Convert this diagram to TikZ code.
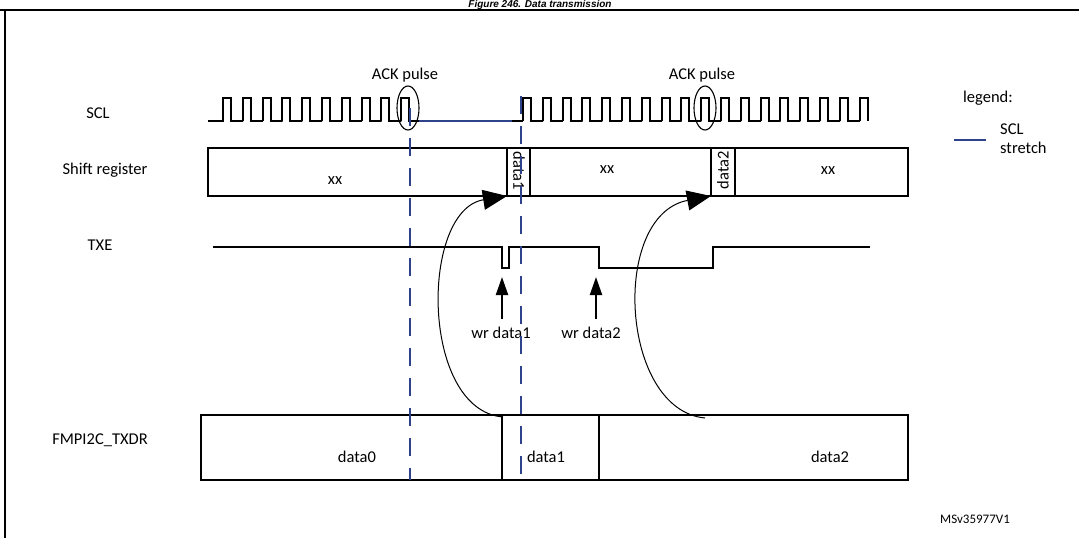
\documentclass[tikz,border=0pt]{standalone}
\usepackage{fontspec}
\setmainfont{Carlito}
\newfontfamily\titlefont{Liberation Sans}
\usetikzlibrary{arrows.meta}

\tikzset{
  wave/.style={black, line width=2.1pt},
  cell/.style={draw=black, line width=2.1pt},
  stretch/.style={draw={rgb,255:red,47;green,66;blue,140}, line width=1.3pt},
  marker/.style={stretch, dash pattern=on 18pt off 12pt},
  lbl/.style={font=\fontsize{16.5}{19}\selectfont, inner sep=0pt},
  wr/.style={-{Triangle[length=18pt,width=12pt]}, line width=2.1pt},
  load/.style={-{Triangle[length=24pt,width=20pt,fill=black]}, line width=1pt}
}

\begin{document}
\begin{tikzpicture}[x=1pt,y=-1pt]
\useasboundingbox (0,0) rectangle (1079,538);
% frame and title
\draw [line width=1.5pt] (0,10) -- (1079,10);
\draw [line width=1.5pt] (5,10) -- (5,538);
\node [font=\titlefont\bfseries\itshape\fontsize{10}{11}\selectfont, anchor=base] (title) at (540,7) {Figure 246. Data transmission};
% row labels
\node [lbl] (sclL) at (98,113) {SCL};
\node [lbl] (srL) at (105,170) {Shift register};
\node [lbl] (txeL) at (100,245) {TXE};
\node [lbl] (txdrL) at (100,440) {FMPI2C\_TXDR};
% SCL first burst
\draw [wave] (208,121) -- (223,121)
  \foreach \k in {0,...,9} { -- ({223+19.8*\k},121) -- ({223+19.8*\k},98) -- ({231+19.8*\k},98) -- ({231+19.8*\k},121) -- ({243+19.8*\k},121) };
\draw [stretch] (419,121) -- (512,121);
\draw [wave] (512,121) -- (523,121);
% SCL second burst
\draw [wave] (523,121)
  \foreach \k in {0,...,17} { -- ({523+19.8*\k},121) -- ({523+19.8*\k},98) -- ({531+19.8*\k},98) -- ({531+19.8*\k},121) \ifnum\k<17 -- ({543+19.8*\k},121)\fi };
% ACK pulses
\draw [line width=1.1pt] (408,108) ellipse [x radius=11, y radius=22];
\draw [line width=1.1pt] (705,108) ellipse [x radius=11, y radius=22];
\node [lbl] (ack1) at (405,75) {ACK pulse};
\node [lbl] (ack2) at (702,75) {ACK pulse};
% shift register
\draw [cell] (208,148) rectangle (908,196);
\draw [cell] (507,148) -- (507,196);
\draw [cell] (530,148) -- (530,196);
\draw [cell] (711,148) -- (711,196);
\draw [cell] (735,148) -- (735,196);
\node [lbl] (xx0) at (335,181) {xx};
\node [lbl, rotate=-90] (sd1) at (519,171) {data1};
\node [lbl] (xx1) at (607,170) {xx};
\node [lbl, rotate=90] (sd2) at (723,170) {data2};
\node [lbl] (xx2) at (828,171) {xx};
% TXE
\draw [wave] (213,247) -- (502,247) -- (502,268) -- (509,268) -- (509,247) -- (599,247) -- (599,268) -- (713,268) -- (713,247) -- (870,247);
\coordinate (wr1) at (502,319);
\coordinate (wr2) at (596,319);
\draw [wr] (wr1) -- (502,277);
\draw [wr] (wr2) -- (596,277);
\node [lbl] (wrL1) at (501,333) {wr data1};
\node [lbl] (wrL2) at (591,333) {wr data2};
% TXDR
\draw [cell] (201,415) rectangle (908,480);
\draw [cell] (502,415) -- (502,480);
\draw [cell] (599,415) -- (599,480);
\node [lbl] (d0) at (357,457) {data0};
\node [lbl] (d1) at (546,457) {data1};
\node [lbl] (d2) at (830,457) {data2};
% load arrows
\coordinate (ld1) at (503,417);
\coordinate (ld2) at (705,418);
\draw [load] (ld1) .. controls (420,410) and (420,210) .. (507,196);
\draw [load] (ld2) .. controls (620,410) and (610,215) .. (711,196);
% stretch markers
\draw [marker] (410,108) -- (410,480);
\draw [marker] (521,96) -- (521,480);
% legend
\node [lbl, anchor=west] (leg) at (963,98) {legend:};
\draw [stretch] (954,140) -- (986,140);
\node [lbl, anchor=west, align=left] (legT) at (1000,139) {SCL\\stretch};
\node [font=\fontsize{13}{15}\selectfont] (ref) at (975,519) {MSv35977V1};
\end{tikzpicture}
\end{document}
